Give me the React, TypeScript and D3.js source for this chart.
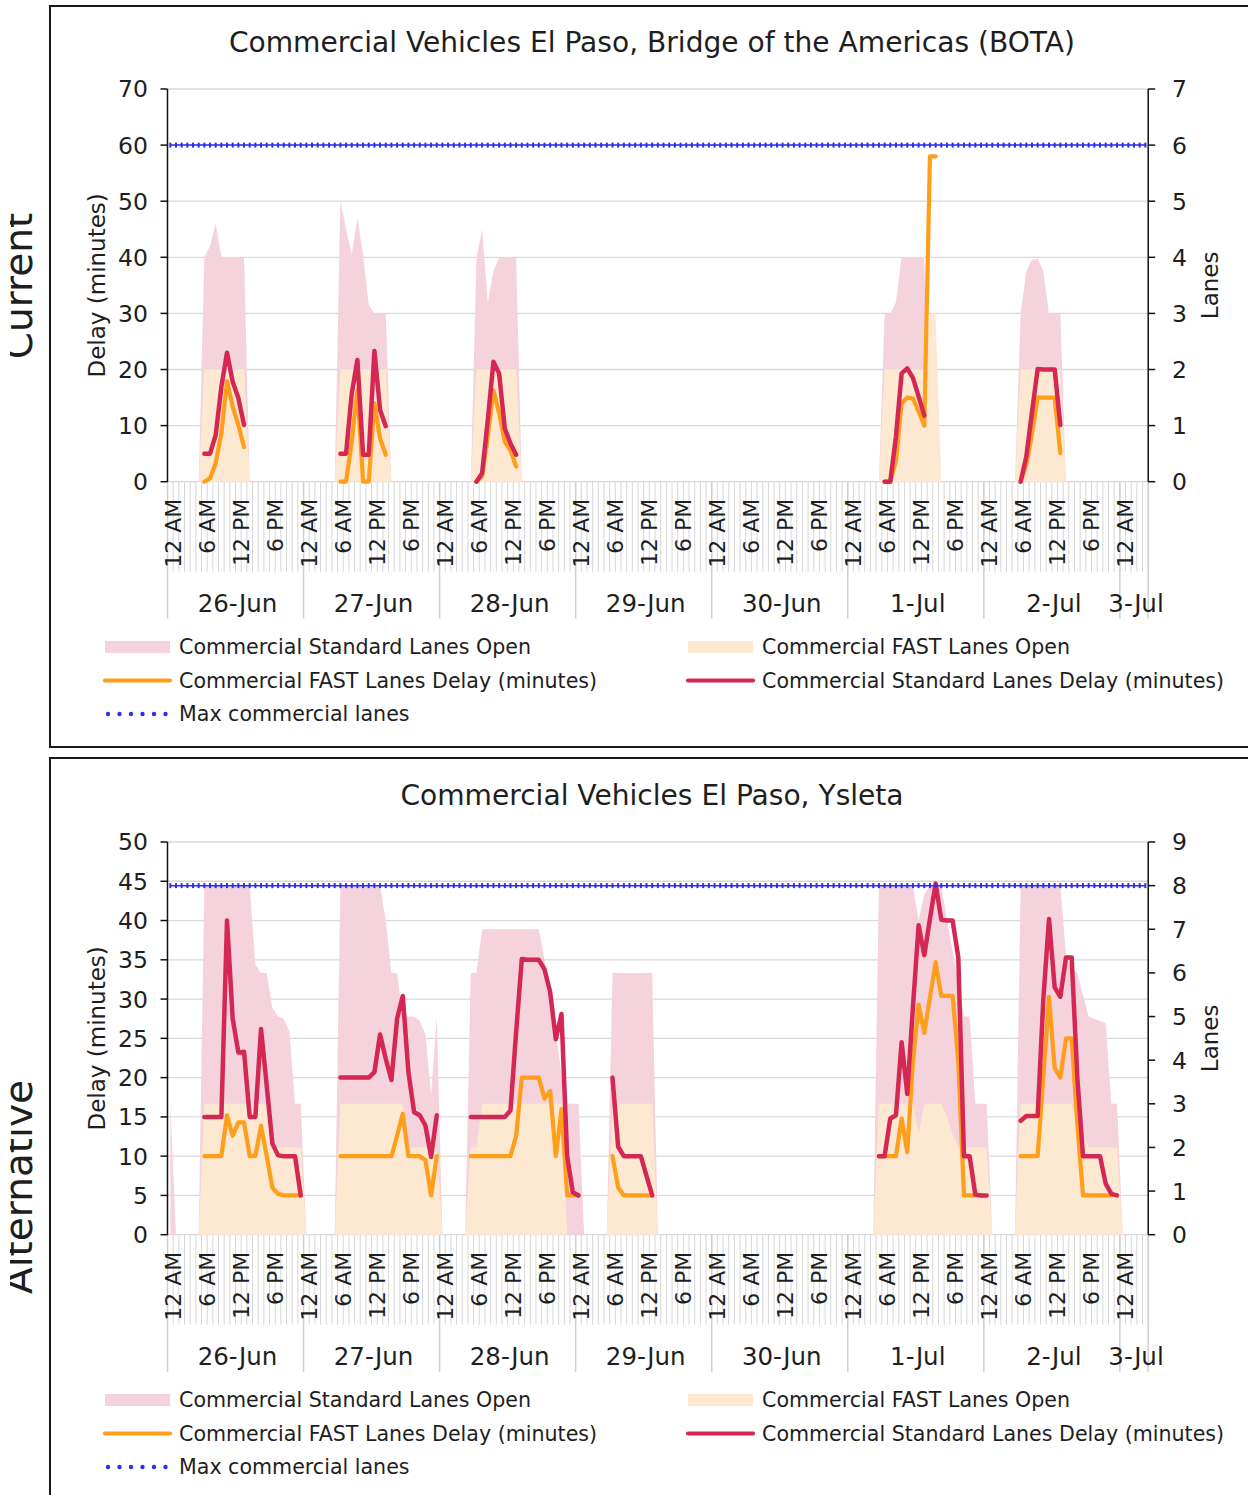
import React from "react";
import * as d3 from "d3";

// ---------- data ----------
const N_HOURS = 173; // hourly categories from 26-Jun 12 AM to 3-Jul 4 AM
const DAYS = ["26-Jun", "27-Jun", "28-Jun", "29-Jun", "30-Jun", "1-Jul", "2-Jul", "3-Jul"];
const TIME_LABELS = ["12 AM", "6 AM", "12 PM", "6 PM"];

type Seg = [number, number[]]; // [start hour index, hourly values]

// Bridge of the Americas (BOTA)
const BOTA_STD_LANES: Seg[] = [
  [5, [0, 4, 4.2, 4.6, 4, 4, 4, 4, 4, 0]],
  [29, [0, 5, 4.5, 4.05, 4.7, 4.05, 3.15, 3, 3, 3, 0]],
  [53, [0, 4, 4.5, 3.2, 3.75, 4, 4, 4, 4, 0]],
  [125, [0, 3, 3, 3.2, 4, 4, 4, 4, 4, 0]],
  [149, [0, 3, 3.75, 3.95, 3.98, 3.75, 3, 3, 3, 0]],
];
const BOTA_FAST_LANES: Seg[] = [
  [5, [0, 2, 2, 2, 2, 2, 2, 2, 2, 0]],
  [29, [0, 2, 2, 2, 2, 2, 2, 2, 2, 2, 0]],
  [53, [0, 2, 2, 2, 2, 2, 2, 2, 2, 0]],
  [125, [0, 2, 2, 2, 2, 2, 2, 2, 2, 3, 3, 0]],
  [149, [0, 2, 2, 2, 2, 2, 2, 2, 2, 0]],
];
const BOTA_FAST_DELAY: Seg[] = [
  [6, [0, 0.6, 3.3, 8.6, 17.9, 13.4, 10.1, 6.2]],
  [30, [0, 0, 7.1, 16.3, 0, 0, 14, 7.7, 4.8]],
  [54, [0, 1, 8, 16.3, 12.2, 7.1, 5.6, 2.7]],
  [126, [0, 0, 3.6, 14, 15, 14.8, 12.5, 10, 58, 58]],
  [150, [0, 3, 8.5, 15, 15, 15, 15, 5.1]],
];
const BOTA_STD_DELAY: Seg[] = [
  [6, [5, 5, 8.3, 16.9, 23, 17.8, 14.9, 10.1]],
  [30, [5, 5, 15.7, 21.7, 4.8, 4.8, 23.3, 12.8, 9.9]],
  [54, [0, 1.5, 11, 21.4, 19.3, 9.5, 6.8, 4.8]],
  [126, [0, 0, 8, 19.3, 20.2, 18.5, 15.2, 11.8]],
  [150, [0, 4.5, 12.4, 20.1, 20, 20, 20, 10.1]],
];
const BOTA_MAX_LANES = 6;

// Ysleta
const YSL_STD_LANES: Seg[] = [
  [0, [3, 0]],
  [5, [0, 8, 8, 8, 8, 8, 8, 8, 8, 8, 6.2, 6.0, 6.0, 5.2, 5.0, 4.95, 4.65, 3.0, 3.0, 0]],
  [29, [0, 8, 8, 8, 8, 8, 8, 8, 8, 7.2, 6.0, 6.0, 5.0, 5.0, 5.0, 4.9, 4.6, 3.2, 5.0, 0]],
  [52, [0, 6, 6, 7, 7, 7, 7, 7, 7, 7, 7, 7, 7, 7, 6.3, 5.5, 4.6, 3.7, 3, 3, 3, 0]],
  [77, [0, 6, 6, 6, 6, 6, 6, 6, 6, 0]],
  [124, [0, 8, 8, 8, 8, 8, 8, 8, 7.2, 7.8, 8, 8, 8, 7.2, 6.5, 5.8, 5.0, 5.0, 3, 3, 3, 0]],
  [149, [0, 8, 8, 8, 8, 8, 8, 8, 8, 6.4, 6.1, 6.0, 5.5, 5.0, 4.95, 4.9, 4.85, 3, 3, 0]],
];
const YSL_FAST_LANES: Seg[] = [
  [5, [0, 3, 3, 3, 3, 3, 3, 3, 3, 3, 3, 3, 3, 2, 2, 2, 2, 2, 2, 0]],
  [29, [0, 3, 3, 3, 3, 3, 3, 3, 3, 3, 3, 3, 3, 2, 2, 2, 2, 2, 2, 0]],
  [52, [0, 2, 2, 3, 3, 3, 3, 3, 3, 3, 3, 3, 3, 3, 3, 3, 3, 3, 0]],
  [77, [0, 3, 3, 3, 3, 3, 3, 3, 3, 0]],
  [124, [0, 3, 3, 3, 3, 3, 3, 3, 2.3, 3, 3, 3, 3, 2.7, 2.3, 2, 2, 2, 2, 2, 2, 0]],
  [149, [0, 3, 3, 3, 3, 3, 3, 3, 3, 3, 3, 2.7, 2.3, 2, 2, 2, 2, 2, 2, 0]],
];
const YSL_FAST_DELAY: Seg[] = [
  [6, [10, 10, 10, 10, 15.2, 12.6, 14.3, 14.3, 10, 10, 13.9, 10, 6, 5.2, 5, 5, 5, 5]],
  [30, [10, 10, 10, 10, 10, 10, 10, 10, 10, 10, 12.6, 15.4, 10, 10, 10, 9.5, 5, 10]],
  [53, [10, 10, 10, 10, 10, 10, 10, 10, 12.6, 20, 20, 20, 20, 17.3, 18.3, 10, 16, 5, 5, 5]],
  [78, [10, 6, 5, 5, 5, 5, 5, 5]],
  [125, [10, 10, 10, 10, 14.8, 10.5, 22, 29.3, 25.7, 30.2, 34.7, 30.4, 30.4, 30.4, 22, 5, 5, 5, 5]],
  [150, [10, 10, 10, 10, 20, 30.3, 21.2, 20, 25, 25, 14, 5, 5, 5, 5, 5, 5]],
];
const YSL_STD_DELAY: Seg[] = [
  [6, [15, 15, 15, 15, 40, 27.5, 23.2, 23.3, 15, 15, 26.2, 19, 11.6, 10.1, 10, 10, 10, 5]],
  [30, [20, 20, 20, 20, 20, 20, 20.7, 25.5, 22.4, 19.7, 27.5, 30.4, 20.7, 15.6, 15.2, 13.9, 9.9, 15.2]],
  [53, [15, 15, 15, 15, 15, 15, 15, 15.8, 25.8, 35.1, 35, 35, 35, 33.8, 30.9, 24.9, 28.1, 10, 5.4, 5]],
  [78, [20, 11.2, 10, 10, 10, 10, 7.5, 5]],
  [125, [10, 10, 14.8, 15.2, 24.5, 17.9, 29, 39.4, 35.6, 40.2, 44.7, 40.1, 40, 40, 35.3, 10, 10, 5.1, 5, 5]],
  [150, [14.5, 15.1, 15.1, 15.1, 30, 40.2, 31.5, 30.3, 35.3, 35.3, 20, 10, 10, 10, 10, 6.5, 5.2, 5]],
];
const YSL_MAX_LANES = 8;

// ---------- styling ----------
const FONT = "'DejaVu Sans', Verdana, sans-serif";
const C_STD_AREA = "#F5D3DD";
const C_FAST_AREA = "#FDE9D2";
const C_FAST_LINE = "#FF9E1B";
const C_STD_LINE = "#D52754";
const C_MAX = "#2E2EEE";
const C_GRID = "#D9D9D9";
const C_TEXT = "#1E1E1E";

const W = 1248;
const H = 1495;
const PLOT_X0 = 167.5;
const PLOT_X1 = 1148.2;

function expand(segs: Seg[]): (number | null)[] {
  const out: (number | null)[] = new Array(N_HOURS).fill(null);
  for (const [start, vals] of segs) vals.forEach((v, i) => { out[start + i] = v; });
  return out;
}

interface PanelCfg {
  title: string;
  side: string;
  sideY: number;
  offset: number;
  delayMax: number;
  delayStep: number;
  laneMax: number;
  stdLanes: Seg[];
  fastLanes: Seg[];
  fastDelay: Seg[];
  stdDelay: Seg[];
  maxLanes: number;
  boxTop: number;
  boxBottom: number;
}

const PANELS: PanelCfg[] = [
  {
    title: "Commercial Vehicles El Paso, Bridge of the Americas (BOTA)",
    side: "Current", sideY: 286, offset: 0,
    delayMax: 70, delayStep: 10, laneMax: 7,
    stdLanes: BOTA_STD_LANES, fastLanes: BOTA_FAST_LANES,
    fastDelay: BOTA_FAST_DELAY, stdDelay: BOTA_STD_DELAY, maxLanes: BOTA_MAX_LANES,
    boxTop: 6, boxBottom: 747,
  },
  {
    title: "Commercial Vehicles El Paso, Ysleta",
    side: "Alternative", sideY: 1187, offset: 753,
    delayMax: 50, delayStep: 5, laneMax: 9,
    stdLanes: YSL_STD_LANES, fastLanes: YSL_FAST_LANES,
    fastDelay: YSL_FAST_DELAY, stdDelay: YSL_STD_DELAY, maxLanes: YSL_MAX_LANES,
    boxTop: 758, boxBottom: 1520,
  },
];

const LEGEND = [
  { label: "Commercial Standard Lanes Open", kind: "area", color: C_STD_AREA, col: 0, row: 0 },
  { label: "Commercial FAST Lanes Open", kind: "area", color: C_FAST_AREA, col: 1, row: 0 },
  { label: "Commercial FAST Lanes Delay (minutes)", kind: "line", color: C_FAST_LINE, col: 0, row: 1 },
  { label: "Commercial Standard Lanes Delay (minutes)", kind: "line", color: C_STD_LINE, col: 1, row: 1 },
  { label: "Max commercial lanes", kind: "dots", color: C_MAX, col: 0, row: 2 },
];

function Panel({ cfg, idx }: { cfg: PanelCfg; idx: number }) {
  const off = cfg.offset;
  const yTop = 89 + off;
  const yBot = 481.7 + off;
  const x = d3.scaleLinear().domain([0, N_HOURS]).range([PLOT_X0, PLOT_X1]);
  const cx = (h: number) => x(h + 0.5);
  const yD = d3.scaleLinear().domain([0, cfg.delayMax]).range([yBot, yTop]);
  const yL = d3.scaleLinear().domain([0, cfg.laneMax]).range([yBot, yTop]);

  const area = d3.area<number | null>()
    .defined((d) => d != null)
    .x((_, i) => cx(i))
    .y0(yL(0))
    .y1((d) => yL(d as number));
  const lineD = d3.line<number | null>()
    .defined((d) => d != null)
    .x((_, i) => cx(i))
    .y((d) => yD(d as number));

  const stdL = expand(cfg.stdLanes);
  const fastL = expand(cfg.fastLanes);
  const fastD = expand(cfg.fastDelay);
  const stdD = expand(cfg.stdDelay);
  const maxSeries = d3.range(N_HOURS).map(() => cfg.maxLanes);
  const lineMax = d3.line<number>().x((_, i) => cx(i)).y((d) => yL(d));

  const delayTicks = d3.range(0, cfg.delayMax + cfg.delayStep / 2, cfg.delayStep);
  const laneTicks = d3.range(0, cfg.laneMax + 1, 1);
  const hourBounds = d3.range(0, N_HOURS + 1);
  const dayBounds = [...d3.range(0, 8).map((d) => x(d * 24)), PLOT_X1];
  const timeTicks = d3.range(0, N_HOURS, 6);
  const midY = (yTop + yBot) / 2;

  const legTop = 647 + off;
  const rowGap = 33.5;
  const colX = [105, 688];
  const symW = 65;

  return (
    <g>
      {/* panel frame */}
      <rect x={50} y={cfg.boxTop} width={1210} height={cfg.boxBottom - cfg.boxTop}
        fill="none" stroke="#1a1a1a" strokeWidth={2} />
      {/* side label (cut off at the left in the source) */}
      <g clipPath="url(#sideclip)">
        <text transform={`translate(32,${cfg.sideY}) rotate(-90)`} textAnchor="middle"
          fontSize={39} fontFamily={FONT} fill={C_TEXT}>{cfg.side}</text>
      </g>
      {/* title */}
      <text x={652} y={52 + off} textAnchor="middle" fontSize={28.1} fontFamily={FONT} fill={C_TEXT}>
        {cfg.title}
      </text>

      {/* gridlines */}
      {delayTicks.map((t) => (
        <line key={"g" + t} x1={PLOT_X0} x2={PLOT_X1} y1={yD(t)} y2={yD(t)} stroke={C_GRID} strokeWidth={1.3} />
      ))}
      {/* hour lines in label area */}
      {hourBounds.map((h) => (
        <line key={"h" + h} x1={x(h)} x2={x(h)} y1={yBot} y2={yBot + 90} stroke="#D6D6D6" strokeWidth={1} />
      ))}
      {dayBounds.map((bx, i) => (
        <line key={"d" + i} x1={bx} x2={bx} y1={yBot} y2={yBot + 137} stroke="#CFCFCF" strokeWidth={1.5} />
      ))}

      {/* areas */}
      <path d={area(stdL) || ""} fill={C_STD_AREA} />
      <path d={area(fastL) || ""} fill={C_FAST_AREA} />

      {/* lines */}
      <path d={lineD(fastD) || ""} fill="none" stroke={C_FAST_LINE} strokeWidth={4.2} strokeLinejoin="round" strokeLinecap="round" />
      <path d={lineD(stdD) || ""} fill="none" stroke={C_STD_LINE} strokeWidth={4.5} strokeLinejoin="round" strokeLinecap="round" />
      <path d={lineMax(maxSeries) || ""} fill="none" stroke={C_MAX} strokeWidth={1.5} />
      {maxSeries.map((v, i) => (
        <rect key={"m" + i} x={cx(i) - 1} y={yL(v) - 2.5} width={2} height={5} fill={C_MAX} />
      ))}

      {/* axes */}
      <line x1={PLOT_X0} x2={PLOT_X0} y1={yTop} y2={yBot} stroke="#111" strokeWidth={1.5} />
      <line x1={PLOT_X1} x2={PLOT_X1} y1={yTop} y2={yBot} stroke="#111" strokeWidth={1.5} />
      {delayTicks.map((t) => (
        <g key={"lt" + t}>
          <line x1={PLOT_X0 - 7} x2={PLOT_X0} y1={yD(t)} y2={yD(t)} stroke="#111" strokeWidth={1.5} />
          <text x={148} y={yD(t)} dy="0.36em" textAnchor="end" fontSize={23.5} fontFamily={FONT} fill={C_TEXT}>{t}</text>
        </g>
      ))}
      {laneTicks.map((t) => (
        <g key={"rt" + t}>
          <line x1={PLOT_X1} x2={PLOT_X1 + 7} y1={yL(t)} y2={yL(t)} stroke="#111" strokeWidth={1.5} />
          <text x={1172} y={yL(t)} dy="0.36em" textAnchor="start" fontSize={23.5} fontFamily={FONT} fill={C_TEXT}>{t}</text>
        </g>
      ))}
      <text transform={`translate(97,${midY}) rotate(-90)`} dy="0.35em" textAnchor="middle"
        fontSize={23} fontFamily={FONT} fill={C_TEXT}>Delay (minutes)</text>
      <text transform={`translate(1210,${midY}) rotate(-90)`} dy="0.35em" textAnchor="middle"
        fontSize={23} fontFamily={FONT} fill={C_TEXT}>Lanes</text>

      {/* time-of-day labels */}
      {timeTicks.map((h) => (
        <text key={"tl" + h} transform={`translate(${cx(h) + 3},${yBot + 17}) rotate(-90)`} dy="0.35em"
          textAnchor="end" fontSize={22} fontFamily={FONT} fill={C_TEXT}>
          {TIME_LABELS[(h / 6) % 4]}
        </text>
      ))}
      {/* date labels */}
      {DAYS.map((d, i) => {
        const a = x(i * 24);
        const b = Math.min(x((i + 1) * 24), PLOT_X1);
        return (
          <text key={"dl" + d} x={(a + b) / 2 + 2} y={yBot + 130} textAnchor="middle"
            fontSize={24.5} fontFamily={FONT} fill={C_TEXT}>{d}</text>
        );
      })}

      {/* legend */}
      {LEGEND.map((it) => {
        const lx = colX[it.col];
        const ly = legTop + it.row * rowGap;
        return (
          <g key={it.label + idx}>
            {it.kind === "area" && <rect x={lx} y={ly - 6} width={symW} height={12} fill={it.color} />}
            {it.kind === "line" && (
              <line x1={lx} x2={lx + symW} y1={ly} y2={ly} stroke={it.color} strokeWidth={4.2} strokeLinecap="round" />
            )}
            {it.kind === "dots" && d3.range(6).map((k) => (
              <circle key={k} cx={lx + 3 + k * 11.5} cy={ly} r={2.2} fill={it.color} />
            ))}
            <text x={lx + symW + 9} y={ly} dy="0.36em" fontSize={20.6} fontFamily={FONT} fill={C_TEXT}>{it.label}</text>
          </g>
        );
      })}
    </g>
  );
}

export default function App() {
  return (
    <svg width={W} height={H} viewBox={`0 0 ${W} ${H}`}
      style={{ position: "absolute", left: 0, top: 0, background: "#fff" }}>
      <defs>
        <clipPath id="sideclip">
          <rect x={10} y={0} width={40} height={H} />
        </clipPath>
      </defs>
      <rect x={0} y={0} width={W} height={H} fill="#fff" />
      {PANELS.map((p, i) => <Panel key={i} cfg={p} idx={i} />)}
    </svg>
  );
}
